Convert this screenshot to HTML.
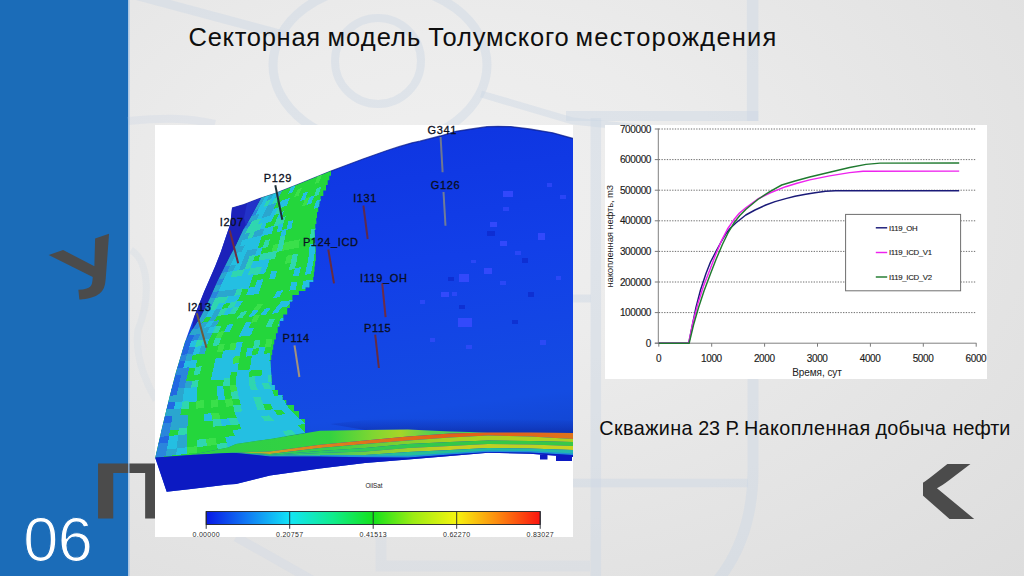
<!DOCTYPE html>
<html lang="ru">
<head>
<meta charset="utf-8">
<title>Секторная модель Толумского месторождения</title>
<style>
html,body{margin:0;padding:0;}
body{width:1024px;height:576px;overflow:hidden;position:relative;
 font-family:"Liberation Sans",sans-serif;
 background:#e9e9e9;}
#bg{position:absolute;left:0;top:0;width:1024px;height:576px;
 background:radial-gradient(ellipse farthest-corner at 44% 34%,#f0f0f0 0%,#ececec 30%,#e5e5e5 62%,#dddddd 100%);}
#side{position:absolute;left:0;top:0;width:128px;height:576px;background:#1b6cb8;}
#art{position:absolute;left:0;top:0;width:1024px;height:576px;}
.title,.caption{position:absolute;left:0;width:1024px;color:#0e0e0e;white-space:nowrap;}
.title{font-size:25.5px;line-height:34px;height:34px;}
.caption{font-size:19.8px;line-height:26px;height:26px;}
.title span,.caption span{position:absolute;top:0;white-space:nowrap;}
.num{position:absolute;left:23.2px;top:503.5px;font-size:63px;line-height:70px;color:#fff;white-space:nowrap;letter-spacing:-0.6px;-webkit-text-stroke:1.1px #1b6cb8;}
.deco{position:absolute;color:#4b4b4b;font-weight:bold;white-space:nowrap;line-height:1;}
svg text{font-family:"Liberation Sans",sans-serif;}
</style>
</head>
<body>
<div id="bg"></div>
<div id="side"></div>
<div class="deco" id="dU" style="left:52px;top:228.6px;width:80px;height:78px;font-size:78px;text-align:center;transform:rotate(-19.5deg) skewX(10.5deg) scaleX(1.3);transform-origin:50% 50%;">У</div>
<div class="deco" id="dP" style="left:90.5px;top:451px;width:80px;height:79.4px;font-size:79.4px;"><span style="display:inline-block;transform:scaleX(1.33);transform-origin:0 50%;">П</span></div>
<div class="deco" id="dK" style="left:922.5px;top:452.4px;width:60px;height:78px;overflow:hidden;font-size:79px;"><span style="display:inline-block;margin-left:-44.5px;transform:scaleX(1.99);transform-origin:0 50%;">К</span></div>
<svg id="art" width="1024" height="576" viewBox="0 0 1024 576">
<g fill="none" stroke="#cdd6e4" stroke-opacity="0.45">
<ellipse cx="380" cy="65" rx="107" ry="80" stroke-width="9"/>
<circle cx="378" cy="61" r="43" stroke-width="8"/>
<path d="M138,-4 L280,34" stroke-width="9"/>
<path d="M128,121 C160,118 185,117 215,124" stroke-width="8" stroke-opacity="0.35"/>
<path d="M481,94 L573,121 L640,128" stroke-width="7"/>
<path d="M752.6,-2 V121" stroke-width="11.5"/>
<path d="M566,116 H758.3" stroke-width="10"/>
<path d="M595.8,118 V580" stroke-width="10.5"/>
<path d="M573,298.5 H591" stroke-width="8"/>
<path d="M573,483 H748" stroke-width="8.5"/>
<path d="M753,379 V470 C753,520 738,555 718,580" stroke-width="11"/>
<path d="M236,537 L312,580" stroke-width="9" stroke-opacity="0.35"/>
<path d="M381,537 V566 H590" stroke-width="11" stroke-opacity="0.3"/>
<path d="M131,250 C150,262 150,300 138,330 C134,360 150,390 156,400" stroke-width="7" stroke-opacity="0.25"/>
</g>
<rect x="128" y="0" width="1.6" height="576" fill="#9dbfe3" opacity="0.8"/>
<rect x="155" y="125" width="418" height="412" fill="#fff"/>
<defs>
<linearGradient id="gsurf" x1="0" y1="0" x2="0.15" y2="1">
 <stop offset="0" stop-color="#0c30d2"/><stop offset="0.12" stop-color="#0f36e2"/><stop offset="0.45" stop-color="#123fe8"/>
 <stop offset="0.85" stop-color="#144ce2"/><stop offset="1" stop-color="#1244cc"/>
</linearGradient>
<linearGradient id="gbar" x1="0" y1="0" x2="1" y2="0">
 <stop offset="0" stop-color="#0818e6"/><stop offset="0.12" stop-color="#1078f4"/>
 <stop offset="0.25" stop-color="#12e4f6"/><stop offset="0.38" stop-color="#10ec8c"/>
 <stop offset="0.5" stop-color="#14e21c"/><stop offset="0.62" stop-color="#9cec14"/>
 <stop offset="0.75" stop-color="#f6f410"/><stop offset="0.87" stop-color="#fc8c10"/>
 <stop offset="1" stop-color="#fc1410"/>
</linearGradient>
<clipPath id="cimg"><rect x="155" y="125" width="418" height="412"/></clipPath>
</defs>
<g clip-path="url(#cimg)">
<polygon points="232.0,208.0 244.0,204.5 261.0,198.0 275.0,193.5 299.0,184.0 331.0,171.0 363.0,159.0 387.0,150.5 399.0,146.7 412.0,142.8 420.0,141.2 440.3,136.0 456.0,131.3 471.6,129.0 487.0,126.7 498.0,126.3 510.6,126.6 529.4,129.0 552.8,132.8 573.0,138.5 573.0,457.0 530.0,453.8 488.0,452.8 450.0,456.0 408.0,459.5 365.0,463.0 320.0,468.5 270.0,475.5 236.0,484.0 228.0,484.5 191.0,489.0 166.7,491.7 155.3,458.0 155.3,457.5 162.0,428.0 170.0,395.0 176.0,372.0 185.0,342.0 194.0,317.0 204.0,292.0 211.4,275.0 215.3,266.0 220.8,252.0 226.0,236.6 230.3,224.0" fill="url(#gsurf)"/>
<polyline points="232.0,208.0 244.0,204.5 261.0,198.0 275.0,193.5 299.0,184.0 331.0,171.0 363.0,159.0 387.0,150.5 399.0,146.7 412.0,142.8 420.0,141.2 440.3,136.0 456.0,131.3 471.6,129.0 487.0,126.7 498.0,126.3 510.6,126.6 529.4,129.0 552.8,132.8 573.0,138.5" fill="none" stroke="#0a1c8c" stroke-width="1.3" stroke-opacity="0.75"/>
<clipPath id="creg"><polygon points="261.0,198.0 275.0,193.5 299.0,184.0 331.0,171.0 331.0,175.7 329.3,175.7 329.3,180.3 327.7,180.3 327.7,185.0 326.0,185.0 326.0,190.5 323.3,190.5 323.3,196.0 320.6,196.0 320.6,201.3 319.4,201.3 319.4,206.7 318.2,206.7 318.2,212.0 317.0,212.0 317.0,218.0 316.2,218.0 316.2,224.0 315.3,224.0 315.3,230.0 314.5,230.0 315.8,256.0 315.8,261.2 315.1,261.2 315.1,266.5 314.5,266.5 314.5,271.8 313.9,271.8 313.9,277.0 313.2,277.0 313.2,282.1 309.3,282.1 309.3,287.3 305.4,287.3 305.4,291.1 298.9,291.1 298.9,295.0 292.4,295.0 292.4,301.5 289.8,301.5 289.8,308.0 287.2,308.0 287.2,314.5 283.3,314.5 283.3,321.0 279.4,321.0 279.4,327.1 277.7,327.1 277.7,333.3 275.9,333.3 275.9,339.4 274.2,339.4 274.2,344.5 273.2,344.5 273.2,349.7 272.2,349.7 272.2,354.9 271.3,354.9 271.3,360.0 270.3,360.0 271.6,380.0 271.6,385.0 274.8,385.0 274.8,390.0 278.0,390.0 278.0,395.0 282.6,395.0 282.6,400.0 286.3,400.0 286.3,405.0 290.0,405.0 294.0,405.0 294.0,411.0 299.0,411.0 299.0,419.0 305.0,419.0 305.0,432.8 270.0,438.9 236.0,444.0 228.0,447.5 191.0,455.0 166.7,456.7 155.3,457.5 162.0,428.0 170.0,395.0 176.0,372.0 185.0,342.0 192.0,330.0 200.0,318.0 209.0,300.0 217.0,282.0 230.0,256.0 236.0,245.0 243.0,230.0 249.0,220.0"/></clipPath>
<polygon points="261.0,198.0 275.0,193.5 299.0,184.0 331.0,171.0 331.0,175.7 329.3,175.7 329.3,180.3 327.7,180.3 327.7,185.0 326.0,185.0 326.0,190.5 323.3,190.5 323.3,196.0 320.6,196.0 320.6,201.3 319.4,201.3 319.4,206.7 318.2,206.7 318.2,212.0 317.0,212.0 317.0,218.0 316.2,218.0 316.2,224.0 315.3,224.0 315.3,230.0 314.5,230.0 315.8,256.0 315.8,261.2 315.1,261.2 315.1,266.5 314.5,266.5 314.5,271.8 313.9,271.8 313.9,277.0 313.2,277.0 313.2,282.1 309.3,282.1 309.3,287.3 305.4,287.3 305.4,291.1 298.9,291.1 298.9,295.0 292.4,295.0 292.4,301.5 289.8,301.5 289.8,308.0 287.2,308.0 287.2,314.5 283.3,314.5 283.3,321.0 279.4,321.0 279.4,327.1 277.7,327.1 277.7,333.3 275.9,333.3 275.9,339.4 274.2,339.4 274.2,344.5 273.2,344.5 273.2,349.7 272.2,349.7 272.2,354.9 271.3,354.9 271.3,360.0 270.3,360.0 271.6,380.0 271.6,385.0 274.8,385.0 274.8,390.0 278.0,390.0 278.0,395.0 282.6,395.0 282.6,400.0 286.3,400.0 286.3,405.0 290.0,405.0 294.0,405.0 294.0,411.0 299.0,411.0 299.0,419.0 305.0,419.0 305.0,432.8 270.0,438.9 236.0,444.0 228.0,447.5 191.0,455.0 166.7,456.7 155.3,457.5 162.0,428.0 170.0,395.0 176.0,372.0 185.0,342.0 192.0,330.0 200.0,318.0 209.0,300.0 217.0,282.0 230.0,256.0 236.0,245.0 243.0,230.0 249.0,220.0" fill="#24d63c"/>
<g clip-path="url(#creg)" shape-rendering="crispEdges">
<polygon points="261.0,198.0 265.4,196.3 261.5,203.6 257.1,205.2" fill="#2aa6cf"/>
<polygon points="265.4,196.3 269.7,194.6 265.9,202.0 261.5,203.6" fill="#24bfe2"/>
<polygon points="269.7,194.6 274.1,193.0 270.4,200.3 265.9,202.0" fill="#2aa6cf"/>
<polygon points="274.1,193.0 278.4,191.3 274.8,198.7 270.4,200.3" fill="#24bfe2"/>
<polygon points="278.4,191.3 282.8,189.6 279.2,197.1 274.8,198.7" fill="#2aa6cf"/>
<polygon points="291.5,186.2 295.8,184.6 292.5,192.2 288.1,193.9" fill="#24bfe2"/>
<polygon points="317.6,176.2 322.0,174.5 319.0,182.5 314.6,184.2" fill="#3ae04a"/>
<polygon points="335.0,169.4 339.4,167.8 336.7,176.1 332.3,177.7" fill="#24bfe2"/>
<polygon points="257.6,204.2 262.0,202.6 258.2,209.8 253.7,211.4" fill="#2aa6cf"/>
<polygon points="262.0,202.6 266.5,200.9 262.7,208.3 258.2,209.8" fill="#24bfe2"/>
<polygon points="266.5,200.9 270.9,199.3 267.2,206.7 262.7,208.3" fill="#2fd6b0"/>
<polygon points="270.9,199.3 275.3,197.7 271.6,205.1 267.2,206.7" fill="#24bfe2"/>
<polygon points="275.3,197.7 279.7,196.1 276.1,203.6 271.6,205.1" fill="#2fd6b0"/>
<polygon points="297.4,189.6 301.8,187.9 298.6,195.7 294.1,197.3" fill="#3ae04a"/>
<polygon points="254.2,210.4 258.7,208.8 254.9,216.1 250.3,217.6" fill="#2a86dc"/>
<polygon points="258.7,208.8 267.7,205.7 264.0,213.0 254.9,216.1" fill="#24bfe2"/>
<polygon points="267.7,205.7 276.6,202.5 273.1,210.0 264.0,213.0" fill="#2aa6cf"/>
<polygon points="281.1,201.0 290.0,197.8 286.7,205.5 277.6,208.5" fill="#24bfe2"/>
<polygon points="303.5,193.1 308.0,191.5 304.9,199.5 300.3,201.0" fill="#24bfe2"/>
<polygon points="316.9,188.4 321.4,186.8 318.5,194.9 314.0,196.4" fill="#2fd6b0"/>
<polygon points="250.9,216.6 259.9,213.6 256.0,220.8 246.8,223.7" fill="#2aa6cf"/>
<polygon points="259.9,213.6 264.5,212.0 260.6,219.3 256.0,220.8" fill="#24bfe2"/>
<polygon points="264.5,212.0 273.5,209.0 269.9,216.4 260.6,219.3" fill="#2aa6cf"/>
<polygon points="273.5,209.0 278.1,207.5 274.5,215.0 269.9,216.4" fill="#24bfe2"/>
<polygon points="278.1,207.5 282.6,206.0 279.1,213.5 274.5,215.0" fill="#2fd6b0"/>
<polygon points="305.3,198.4 309.8,196.8 306.8,204.8 302.2,206.3" fill="#3ae04a"/>
<polygon points="309.8,196.8 314.4,195.3 311.4,203.4 306.8,204.8" fill="#24bfe2"/>
<polygon points="247.4,222.7 252.0,221.3 247.8,228.4 243.2,229.7" fill="#2a86dc"/>
<polygon points="252.0,221.3 261.2,218.3 257.2,225.6 247.8,228.4" fill="#2fd6b0"/>
<polygon points="261.2,218.3 275.0,214.0 271.3,221.4 257.2,225.6" fill="#24bfe2"/>
<polygon points="279.6,212.5 284.2,211.0 280.7,218.6 276.0,220.0" fill="#24bfe2"/>
<polygon points="316.4,200.8 321.0,199.3 318.2,207.5 313.5,208.9" fill="#24bfe2"/>
<polygon points="243.7,228.8 248.4,227.4 244.9,234.8 240.1,236.1" fill="#2aa6cf"/>
<polygon points="248.4,227.4 262.5,223.2 259.2,230.8 244.9,234.8" fill="#2fd6b0"/>
<polygon points="262.5,223.2 267.1,221.8 264.0,229.4 259.2,230.8" fill="#24bfe2"/>
<polygon points="276.5,219.0 285.9,216.2 283.1,224.1 273.6,226.8" fill="#2fd6b0"/>
<polygon points="240.6,235.1 250.1,232.4 247.0,240.0 237.2,242.5" fill="#2aa6cf"/>
<polygon points="250.1,232.4 254.9,231.1 252.0,238.7 247.0,240.0" fill="#2fd6b0"/>
<polygon points="254.9,231.1 264.4,228.4 261.9,236.2 252.0,238.7" fill="#2aa6cf"/>
<polygon points="264.4,228.4 273.9,225.7 271.7,233.6 261.9,236.2" fill="#24bfe2"/>
<polygon points="278.6,224.3 283.4,223.0 281.6,231.1 276.7,232.3" fill="#24bfe2"/>
<polygon points="288.1,221.6 292.9,220.3 291.5,228.5 286.6,229.8" fill="#24bfe2"/>
<polygon points="237.6,241.5 242.5,240.2 239.1,247.6 233.9,248.8" fill="#2aa6cf"/>
<polygon points="242.5,240.2 262.2,235.1 259.5,242.8 239.1,247.6" fill="#24bfe2"/>
<polygon points="281.9,230.0 286.8,228.7 285.1,236.8 280.0,238.0" fill="#24bfe2"/>
<polygon points="316.2,221.0 321.2,219.7 321.0,228.4 315.8,229.6" fill="#3ae04a"/>
<polygon points="321.2,219.7 326.1,218.4 326.1,227.2 321.0,228.4" fill="#2fd6b0"/>
<polygon points="234.5,247.8 244.7,245.4 241.2,252.7 230.6,255.0" fill="#2aa6cf"/>
<polygon points="244.7,245.4 259.9,241.7 257.1,249.4 241.2,252.7" fill="#24bfe2"/>
<polygon points="265.0,240.5 270.1,239.3 267.7,247.2 262.4,248.3" fill="#2fd6b0"/>
<polygon points="280.3,236.9 285.4,235.7 283.6,243.8 278.3,244.9" fill="#2fd6b0"/>
<polygon points="310.8,229.6 315.9,228.4 315.5,237.1 310.2,238.2" fill="#2fd6b0"/>
<polygon points="315.9,228.4 321.0,227.2 320.8,236.0 315.5,237.1" fill="#24bfe2"/>
<polygon points="231.1,254.0 236.4,252.9 232.8,260.2 227.4,261.3" fill="#2aa6cf"/>
<polygon points="236.4,252.9 246.9,250.6 243.8,258.1 232.8,260.2" fill="#24bfe2"/>
<polygon points="246.9,250.6 257.5,248.3 254.8,256.0 243.8,258.1" fill="#2aa6cf"/>
<polygon points="257.5,248.3 262.8,247.2 260.3,255.0 254.8,256.0" fill="#24bfe2"/>
<polygon points="273.3,244.9 278.6,243.8 276.7,251.9 271.2,252.9" fill="#3ae04a"/>
<polygon points="278.6,243.8 283.9,242.7 282.2,250.8 276.7,251.9" fill="#2fd6b0"/>
<polygon points="283.9,242.7 299.7,239.3 298.7,247.7 282.2,250.8" fill="#3ae04a"/>
<polygon points="227.9,260.3 233.3,259.2 229.9,266.6 224.2,267.6" fill="#2aa6cf"/>
<polygon points="233.3,259.2 244.2,257.1 241.2,264.7 229.9,266.6" fill="#24bfe2"/>
<polygon points="244.2,257.1 249.7,256.0 246.8,263.7 241.2,264.7" fill="#2aa6cf"/>
<polygon points="249.7,256.0 255.2,255.0 252.5,262.7 246.8,263.7" fill="#2fd6b0"/>
<polygon points="260.6,253.9 277.0,250.7 275.2,258.8 258.2,261.7" fill="#2fd6b0"/>
<polygon points="309.7,244.4 315.2,243.3 314.8,252.0 309.1,252.9" fill="#24bfe2"/>
<polygon points="315.2,243.3 320.6,242.3 320.4,251.0 314.8,252.0" fill="#3ae04a"/>
<polygon points="224.7,266.6 230.3,265.6 226.9,273.0 221.0,273.9" fill="#2a86dc"/>
<polygon points="230.3,265.6 236.0,264.6 232.7,272.1 226.9,273.0" fill="#2aa6cf"/>
<polygon points="236.0,264.6 241.6,263.6 238.5,271.2 232.7,272.1" fill="#24bfe2"/>
<polygon points="241.6,263.6 247.2,262.6 244.3,270.3 238.5,271.2" fill="#2aa6cf"/>
<polygon points="247.2,262.6 252.9,261.6 250.1,269.4 244.3,270.3" fill="#2fd6b0"/>
<polygon points="252.9,261.6 269.8,258.7 267.5,266.6 250.1,269.4" fill="#24bfe2"/>
<polygon points="286.7,255.7 292.3,254.7 290.7,263.0 284.9,263.9" fill="#3ae04a"/>
<polygon points="292.3,254.7 297.9,253.7 296.5,262.1 290.7,263.0" fill="#2fd6b0"/>
<polygon points="309.2,251.8 314.8,250.8 313.9,259.4 308.1,260.3" fill="#24bfe2"/>
<polygon points="221.6,272.9 227.3,272.0 223.8,279.4 217.9,280.2" fill="#2aa6cf"/>
<polygon points="227.3,272.0 233.1,271.1 229.7,278.5 223.8,279.4" fill="#24bfe2"/>
<polygon points="233.1,271.1 244.7,269.2 241.5,276.8 229.7,278.5" fill="#2fd6b0"/>
<polygon points="244.7,269.2 250.5,268.3 247.4,276.0 241.5,276.8" fill="#24bfe2"/>
<polygon points="250.5,268.3 262.1,266.5 259.2,274.3 247.4,276.0" fill="#2fd6b0"/>
<polygon points="262.1,266.5 267.9,265.5 265.1,273.4 259.2,274.3" fill="#24bfe2"/>
<polygon points="291.0,261.9 296.8,260.9 294.7,269.2 288.8,270.0" fill="#2fd6b0"/>
<polygon points="308.4,259.1 314.1,258.2 312.4,266.7 306.5,267.5" fill="#24bfe2"/>
<polygon points="319.9,257.3 325.7,256.4 324.2,265.0 318.3,265.8" fill="#24bfe2"/>
<polygon points="218.4,279.2 224.3,278.3 220.9,285.8 214.9,286.6" fill="#2a86dc"/>
<polygon points="224.3,278.3 253.7,274.1 250.9,281.9 220.9,285.8" fill="#24bfe2"/>
<polygon points="271.4,271.5 277.3,270.6 274.9,278.7 268.9,279.5" fill="#24bfe2"/>
<polygon points="295.0,268.1 300.9,267.2 298.9,275.5 292.9,276.3" fill="#24bfe2"/>
<polygon points="306.7,266.3 312.6,265.5 310.9,274.0 304.9,274.8" fill="#24bfe2"/>
<polygon points="215.4,285.6 221.4,284.8 218.2,292.3 212.1,293.1" fill="#2aa6cf"/>
<polygon points="221.4,284.8 251.3,280.8 248.6,288.6 218.2,292.3" fill="#24bfe2"/>
<polygon points="257.3,280.0 263.3,279.2 260.7,287.2 254.6,287.9" fill="#24bfe2"/>
<polygon points="212.5,292.0 218.6,291.3 215.4,298.8 209.2,299.5" fill="#2a86dc"/>
<polygon points="218.6,291.3 236.8,289.1 233.9,296.8 215.4,298.8" fill="#2aa6cf"/>
<polygon points="236.8,289.1 242.9,288.3 240.0,296.1 233.9,296.8" fill="#2fd6b0"/>
<polygon points="248.9,287.6 261.1,286.1 258.5,294.0 246.2,295.4" fill="#24bfe2"/>
<polygon points="291.4,282.3 297.5,281.6 295.5,289.9 289.4,290.6" fill="#24bfe2"/>
<polygon points="303.5,280.8 315.7,279.4 314.0,287.9 301.7,289.3" fill="#24bfe2"/>
<polygon points="209.7,298.5 215.8,297.8 212.2,305.1 206.1,305.8" fill="#2aa6cf"/>
<polygon points="215.8,297.8 228.1,296.4 224.4,303.7 212.2,305.1" fill="#2fd6b0"/>
<polygon points="228.1,296.4 240.4,295.0 236.5,302.3 224.4,303.7" fill="#24bfe2"/>
<polygon points="277.3,290.9 283.5,290.2 279.2,297.3 273.1,298.0" fill="#24bfe2"/>
<polygon points="308.1,287.4 314.3,286.7 309.7,293.8 303.6,294.5" fill="#24bfe2"/>
<polygon points="314.3,286.7 320.4,286.0 315.8,293.1 309.7,293.8" fill="#2fd6b0"/>
<polygon points="206.6,304.8 212.7,304.1 208.9,311.4 202.9,312.2" fill="#2a86dc"/>
<polygon points="212.7,304.1 218.8,303.4 214.9,310.6 208.9,311.4" fill="#2fd6b0"/>
<polygon points="218.8,303.4 224.9,302.7 220.9,309.9 214.9,310.6" fill="#24bfe2"/>
<polygon points="231.0,302.0 237.1,301.3 232.8,308.4 226.8,309.1" fill="#2fd6b0"/>
<polygon points="237.1,301.3 243.3,300.6 238.8,307.6 232.8,308.4" fill="#24bfe2"/>
<polygon points="203.4,311.2 209.4,310.4 205.6,317.6 199.7,318.4" fill="#2aa6cf"/>
<polygon points="209.4,310.4 215.4,309.6 211.4,316.8 205.6,317.6" fill="#24bfe2"/>
<polygon points="215.4,309.6 221.4,308.9 217.3,316.0 211.4,316.8" fill="#2aa6cf"/>
<polygon points="221.4,308.9 227.4,308.1 223.2,315.2 217.3,316.0" fill="#2fd6b0"/>
<polygon points="227.4,308.1 233.4,307.4 229.1,314.4 223.2,315.2" fill="#24bfe2"/>
<polygon points="233.4,307.4 239.4,306.6 234.9,313.6 229.1,314.4" fill="#2fd6b0"/>
<polygon points="257.4,304.4 263.4,303.6 258.4,310.4 252.5,311.2" fill="#3ae04a"/>
<polygon points="281.4,301.4 293.4,299.9 287.7,306.4 276.0,308.0" fill="#24bfe2"/>
<polygon points="305.4,298.4 311.4,297.6 305.4,304.0 299.5,304.8" fill="#24bfe2"/>
<polygon points="200.3,317.5 206.2,316.7 201.6,323.5 195.8,324.3" fill="#2aa6cf"/>
<polygon points="212.0,315.9 217.9,315.1 213.3,321.9 207.4,322.7" fill="#2aa6cf"/>
<polygon points="241.5,311.9 247.3,311.1 242.4,317.9 236.6,318.7" fill="#2fd6b0"/>
<polygon points="253.2,310.3 259.1,309.5 254.1,316.2 248.3,317.0" fill="#24bfe2"/>
<polygon points="265.0,308.7 270.9,307.9 265.7,314.6 259.9,315.4" fill="#24bfe2"/>
<polygon points="276.8,307.1 282.6,306.3 277.4,313.0 271.6,313.8" fill="#24bfe2"/>
<polygon points="300.3,303.9 306.2,303.1 300.7,309.8 294.9,310.6" fill="#24bfe2"/>
<polygon points="196.4,323.4 202.2,322.6 197.8,329.4 191.9,330.2" fill="#2a86dc"/>
<polygon points="202.2,322.6 208.1,321.7 203.7,328.7 197.8,329.4" fill="#2aa6cf"/>
<polygon points="208.1,321.7 213.9,320.9 209.6,328.0 203.7,328.7" fill="#24bfe2"/>
<polygon points="213.9,320.9 219.7,320.1 215.5,327.2 209.6,328.0" fill="#2aa6cf"/>
<polygon points="254.6,315.2 260.4,314.4 256.8,322.0 250.9,322.8" fill="#3ae04a"/>
<polygon points="192.5,329.2 210.2,327.0 206.2,334.2 188.3,336.3" fill="#2aa6cf"/>
<polygon points="210.2,327.0 216.1,326.2 212.1,333.5 206.2,334.2" fill="#24bfe2"/>
<polygon points="216.1,326.2 221.9,325.5 218.1,332.8 212.1,333.5" fill="#2fd6b0"/>
<polygon points="227.8,324.7 233.7,324.0 230.0,331.5 224.0,332.1" fill="#24bfe2"/>
<polygon points="245.5,322.5 251.4,321.7 247.8,329.4 241.9,330.1" fill="#24bfe2"/>
<polygon points="269.1,319.5 274.9,318.7 271.6,326.6 265.7,327.3" fill="#2fd6b0"/>
<polygon points="280.8,318.0 286.7,317.2 283.5,325.2 277.6,325.9" fill="#24bfe2"/>
<polygon points="286.7,317.2 292.6,316.5 289.4,324.5 283.5,325.2" fill="#3ae04a"/>
<polygon points="188.9,335.3 194.8,334.6 190.9,341.8 184.9,342.4" fill="#2268e2"/>
<polygon points="194.8,334.6 200.8,333.9 196.9,341.1 190.9,341.8" fill="#2a86dc"/>
<polygon points="200.8,333.9 212.7,332.5 208.8,339.9 196.9,341.1" fill="#2aa6cf"/>
<polygon points="218.6,331.8 224.5,331.1 220.8,338.6 214.8,339.2" fill="#3ae04a"/>
<polygon points="242.4,329.0 254.2,327.6 250.8,335.4 238.8,336.7" fill="#24bfe2"/>
<polygon points="185.3,341.4 191.3,340.8 188.8,348.6 182.8,349.2" fill="#2268e2"/>
<polygon points="191.3,340.8 197.3,340.1 194.7,347.9 188.8,348.6" fill="#24bfe2"/>
<polygon points="197.3,340.1 203.3,339.5 200.7,347.3 194.7,347.9" fill="#2fd6b0"/>
<polygon points="203.3,339.5 209.3,338.8 206.6,346.7 200.7,347.3" fill="#24bfe2"/>
<polygon points="215.3,338.2 221.3,337.5 218.5,345.4 212.6,346.0" fill="#2fd6b0"/>
<polygon points="183.2,348.1 189.1,347.5 186.8,355.4 180.8,355.9" fill="#2268e2"/>
<polygon points="189.1,347.5 195.1,346.8 192.8,354.8 186.8,355.4" fill="#2a86dc"/>
<polygon points="195.1,346.8 201.0,346.2 198.8,354.2 192.8,354.8" fill="#24bfe2"/>
<polygon points="201.0,346.2 207.0,345.6 204.8,353.6 198.8,354.2" fill="#2aa6cf"/>
<polygon points="218.9,344.3 224.8,343.7 222.9,351.8 216.9,352.4" fill="#3ae04a"/>
<polygon points="230.8,343.0 236.7,342.4 234.9,350.6 228.9,351.2" fill="#3ae04a"/>
<polygon points="236.7,342.4 242.7,341.8 240.9,350.0 234.9,350.6" fill="#24bfe2"/>
<polygon points="254.6,340.5 260.5,339.9 258.9,348.2 252.9,348.8" fill="#2fd6b0"/>
<polygon points="266.5,339.2 272.4,338.6 270.9,347.0 264.9,347.6" fill="#3ae04a"/>
<polygon points="284.4,337.3 290.3,336.7 288.9,345.3 282.9,345.8" fill="#24bfe2"/>
<polygon points="181.1,354.9 187.1,354.3 184.9,362.2 178.8,362.7" fill="#2a86dc"/>
<polygon points="187.1,354.3 193.1,353.7 191.0,361.6 184.9,362.2" fill="#2aa6cf"/>
<polygon points="223.1,350.7 241.1,348.9 239.7,357.2 221.4,358.8" fill="#24bfe2"/>
<polygon points="247.1,348.3 253.1,347.7 251.8,356.1 245.7,356.6" fill="#24bfe2"/>
<polygon points="259.1,347.1 265.1,346.5 264.0,355.0 257.9,355.5" fill="#24bfe2"/>
<polygon points="179.1,361.6 185.2,361.1 182.9,369.0 176.8,369.5" fill="#2268e2"/>
<polygon points="185.2,361.1 197.3,359.9 195.3,367.9 182.9,369.0" fill="#24bfe2"/>
<polygon points="215.6,358.3 233.8,356.6 232.3,364.9 213.8,366.4" fill="#24bfe2"/>
<polygon points="233.8,356.6 239.9,356.0 238.4,364.4 232.3,364.9" fill="#3ae04a"/>
<polygon points="252.0,354.9 270.2,353.2 269.3,361.8 250.8,363.3" fill="#24bfe2"/>
<polygon points="177.1,368.4 189.4,367.3 187.4,375.3 174.9,376.3" fill="#2a86dc"/>
<polygon points="195.5,366.8 201.7,366.3 199.8,374.4 193.6,374.9" fill="#2fd6b0"/>
<polygon points="214.0,365.3 238.6,363.2 237.3,371.5 212.3,373.4" fill="#24bfe2"/>
<polygon points="250.9,362.2 275.6,360.1 274.7,368.7 249.7,370.6" fill="#24bfe2"/>
<polygon points="175.2,375.2 181.4,374.7 179.4,382.7 173.1,383.1" fill="#2268e2"/>
<polygon points="181.4,374.7 187.6,374.2 185.7,382.2 179.4,382.7" fill="#2a86dc"/>
<polygon points="212.5,372.3 231.2,370.9 229.8,379.2 210.9,380.5" fill="#24bfe2"/>
<polygon points="237.4,370.4 249.9,369.4 248.7,377.9 236.1,378.7" fill="#24bfe2"/>
<polygon points="262.4,368.5 281.0,367.0 280.2,375.7 261.3,377.0" fill="#24bfe2"/>
<polygon points="281.0,367.0 287.3,366.6 286.5,375.3 280.2,375.7" fill="#2fd6b0"/>
<polygon points="173.4,382.0 179.7,381.6 177.8,389.5 171.3,389.9" fill="#2268e2"/>
<polygon points="179.7,381.6 186.0,381.1 184.3,389.1 177.8,389.5" fill="#2a86dc"/>
<polygon points="186.0,381.1 192.3,380.7 190.8,388.7 184.3,389.1" fill="#2aa6cf"/>
<polygon points="192.3,380.7 198.6,380.2 197.3,388.2 190.8,388.7" fill="#2fd6b0"/>
<polygon points="223.7,378.5 230.0,378.0 229.8,386.1 223.3,386.5" fill="#2fd6b0"/>
<polygon points="236.3,377.6 248.9,376.7 249.2,384.8 236.2,385.7" fill="#24bfe2"/>
<polygon points="248.9,376.7 255.2,376.3 255.7,384.4 249.2,384.8" fill="#2fd6b0"/>
<polygon points="255.2,376.3 267.8,375.4 268.7,383.6 255.7,384.4" fill="#24bfe2"/>
<polygon points="267.8,375.4 274.1,374.9 275.2,383.2 268.7,383.6" fill="#2fd6b0"/>
<polygon points="274.1,374.9 280.4,374.5 281.7,382.7 275.2,383.2" fill="#24bfe2"/>
<polygon points="171.6,388.8 178.0,388.4 176.4,396.3 169.6,396.8" fill="#2268e2"/>
<polygon points="178.0,388.4 184.5,388.0 183.2,395.9 176.4,396.3" fill="#2aa6cf"/>
<polygon points="184.5,388.0 197.4,387.2 196.9,395.0 183.2,395.9" fill="#24bfe2"/>
<polygon points="216.7,385.9 223.1,385.5 224.1,393.3 217.3,393.7" fill="#24bfe2"/>
<polygon points="229.6,385.0 236.0,384.6 237.8,392.4 230.9,392.8" fill="#3ae04a"/>
<polygon points="236.0,384.6 248.9,383.8 251.4,391.5 237.8,392.4" fill="#24bfe2"/>
<polygon points="248.9,383.8 255.3,383.4 258.2,391.1 251.4,391.5" fill="#2fd6b0"/>
<polygon points="255.3,383.4 261.8,382.9 265.0,390.6 258.2,391.1" fill="#24bfe2"/>
<polygon points="261.8,382.9 268.2,382.5 271.9,390.2 265.0,390.6" fill="#2fd6b0"/>
<polygon points="268.2,382.5 281.1,381.7 285.5,389.3 271.9,390.2" fill="#24bfe2"/>
<polygon points="169.8,395.7 183.4,394.8 182.2,402.7 167.9,403.6" fill="#2aa6cf"/>
<polygon points="183.4,394.8 196.9,393.9 196.5,401.8 182.2,402.7" fill="#24bfe2"/>
<polygon points="217.2,392.6 224.0,392.2 225.0,400.0 217.9,400.4" fill="#24bfe2"/>
<polygon points="230.8,391.7 237.5,391.3 239.3,399.1 232.2,399.5" fill="#2fd6b0"/>
<polygon points="237.5,391.3 271.4,389.1 275.0,396.8 239.3,399.1" fill="#24bfe2"/>
<polygon points="278.1,388.7 291.7,387.8 296.5,395.4 282.2,396.3" fill="#24bfe2"/>
<polygon points="168.2,402.5 175.3,402.1 173.7,410.0 166.2,410.5" fill="#2268e2"/>
<polygon points="175.3,402.1 182.4,401.6 181.2,409.5 173.7,410.0" fill="#24bfe2"/>
<polygon points="182.4,401.6 189.4,401.2 188.6,409.1 181.2,409.5" fill="#2fd6b0"/>
<polygon points="196.5,400.7 203.6,400.3 203.6,408.1 196.1,408.6" fill="#3ae04a"/>
<polygon points="210.7,399.8 217.8,399.4 218.5,407.2 211.0,407.6" fill="#3ae04a"/>
<polygon points="224.9,398.9 232.0,398.4 233.4,406.2 226.0,406.7" fill="#3ae04a"/>
<polygon points="239.1,398.0 253.3,397.1 255.8,404.8 240.9,405.7" fill="#24bfe2"/>
<polygon points="253.3,397.1 260.3,396.6 263.3,404.3 255.8,404.8" fill="#2fd6b0"/>
<polygon points="260.3,396.6 281.6,395.3 285.7,402.9 263.3,404.3" fill="#24bfe2"/>
<polygon points="288.7,394.8 295.8,394.4 300.6,402.0 293.1,402.4" fill="#3ae04a"/>
<polygon points="166.5,409.4 181.3,408.4 180.2,416.4 164.6,417.3" fill="#2aa6cf"/>
<polygon points="233.2,405.1 240.6,404.7 242.4,412.4 234.7,412.9" fill="#2fd6b0"/>
<polygon points="240.6,404.7 255.5,403.7 258.0,411.5 242.4,412.4" fill="#24bfe2"/>
<polygon points="255.5,403.7 262.9,403.3 265.8,411.0 258.0,411.5" fill="#2fd6b0"/>
<polygon points="270.3,402.8 285.1,401.9 289.2,409.5 273.6,410.5" fill="#24bfe2"/>
<polygon points="164.8,416.2 172.6,415.8 171.2,423.6 162.9,424.2" fill="#2268e2"/>
<polygon points="172.6,415.8 188.1,414.8 187.6,422.4 171.2,423.6" fill="#2aa6cf"/>
<polygon points="203.5,413.8 211.3,413.3 212.3,420.5 204.1,421.1" fill="#24bfe2"/>
<polygon points="211.3,413.3 219.0,412.8 220.6,419.9 212.3,420.5" fill="#3ae04a"/>
<polygon points="234.5,411.9 273.1,409.4 278.2,415.6 237.0,418.7" fill="#24bfe2"/>
<polygon points="280.9,408.9 288.6,408.4 294.7,414.4 286.4,415.0" fill="#24bfe2"/>
<polygon points="163.2,423.1 171.3,422.5 170.0,430.3 161.3,431.1" fill="#2a86dc"/>
<polygon points="171.3,422.5 187.7,421.3 187.4,428.8 170.0,430.3" fill="#2aa6cf"/>
<polygon points="212.2,419.6 220.3,419.0 222.1,425.9 213.5,426.6" fill="#2fd6b0"/>
<polygon points="220.3,419.0 228.5,418.4 230.8,425.1 222.1,425.9" fill="#24bfe2"/>
<polygon points="228.5,418.4 236.6,417.8 239.5,424.4 230.8,425.1" fill="#2fd6b0"/>
<polygon points="236.6,417.8 261.1,416.0 265.6,422.2 239.5,424.4" fill="#24bfe2"/>
<polygon points="261.1,416.0 269.3,415.4 274.3,421.4 265.6,422.2" fill="#2fd6b0"/>
<polygon points="269.3,415.4 293.8,413.7 300.4,419.2 274.3,421.4" fill="#24bfe2"/>
<polygon points="301.9,413.1 310.1,412.5 317.8,417.7 309.1,418.5" fill="#24bfe2"/>
<polygon points="161.6,430.0 170.2,429.2 168.9,437.1 159.7,438.0" fill="#2a86dc"/>
<polygon points="178.8,428.5 187.4,427.8 187.2,435.3 178.0,436.2" fill="#2fd6b0"/>
<polygon points="239.1,423.5 299.5,418.4 306.1,424.0 242.0,430.1" fill="#24bfe2"/>
<polygon points="308.1,417.7 316.7,417.0 324.4,422.3 315.2,423.1" fill="#24bfe2"/>
<polygon points="160.0,436.9 169.1,436.0 167.8,443.8 158.2,444.8" fill="#2268e2"/>
<polygon points="169.1,436.0 178.1,435.1 177.4,442.8 167.8,443.8" fill="#24bfe2"/>
<polygon points="178.1,435.1 187.2,434.3 187.0,441.8 177.4,442.8" fill="#2aa6cf"/>
<polygon points="232.6,430.0 296.1,424.1 302.2,429.8 235.0,436.8" fill="#24bfe2"/>
<polygon points="305.2,423.2 314.2,422.4 321.4,427.8 311.8,428.8" fill="#2fd6b0"/>
<polygon points="158.4,443.7 168.0,442.8 166.7,450.6 156.6,451.7" fill="#2a86dc"/>
<polygon points="168.0,442.8 177.5,441.8 176.7,449.4 166.7,450.6" fill="#24bfe2"/>
<polygon points="177.5,441.8 187.0,440.8 186.8,448.3 176.7,449.4" fill="#2aa6cf"/>
<polygon points="196.5,439.8 206.1,438.8 206.9,446.0 196.8,447.2" fill="#2fd6b0"/>
<polygon points="206.1,438.8 215.6,437.8 216.9,444.9 206.9,446.0" fill="#3ae04a"/>
<polygon points="225.1,436.9 282.3,431.0 287.3,437.0 227.0,443.8" fill="#24bfe2"/>
<polygon points="282.3,431.0 291.8,430.0 297.4,435.8 287.3,437.0" fill="#2fd6b0"/>
<polygon points="291.8,430.0 301.3,429.0 307.4,434.7 297.4,435.8" fill="#24bfe2"/>
<polygon points="156.9,450.6 166.8,449.5 165.7,456.3 155.3,457.5" fill="#2a86dc"/>
<polygon points="166.8,449.5 176.8,448.4 176.2,455.0 165.7,456.3" fill="#2aa6cf"/>
<polygon points="176.8,448.4 186.8,447.3 186.6,453.8 176.2,455.0" fill="#24bfe2"/>
<polygon points="186.8,447.3 196.8,446.2 197.0,452.5 186.6,453.8" fill="#3ae04a"/>
<polygon points="216.7,443.9 226.7,442.8 228.3,448.8 217.9,450.0" fill="#2fd6b0"/>
<polygon points="226.7,442.8 286.6,436.1 291.0,441.3 228.3,448.8" fill="#24bfe2"/>
<polygon points="296.6,435.0 306.6,433.9 311.8,438.8 301.4,440.1" fill="#24bfe2"/>
</g>
<polygon points="232.0,208.0 244.0,204.5 261.0,198.0 249.0,220.0 243.0,230.0 236.0,245.0 230.0,256.0 217.0,282.0 209.0,300.0 200.0,318.0 192.0,330.0 194.0,317.0 204.0,292.0 211.4,275.0 215.3,266.0 220.8,252.0 226.0,236.6 230.3,224.0" fill="#1c22ba"/>
<polygon points="247.0,203.5 261.0,198.0 254.0,211.0 249.0,220.0 246.0,226.0 244.0,218.0 246.0,208.0" fill="#2232c8"/>
<defs>
<linearGradient id="s0" gradientUnits="userSpaceOnUse" x1="157" y1="0" x2="573" y2="0"><stop offset="0.190" stop-color="#2fd046"/><stop offset="0.416" stop-color="#34d240"/><stop offset="0.517" stop-color="#7ed632"/><stop offset="0.584" stop-color="#a6d628"/><stop offset="0.656" stop-color="#58cf50"/><stop offset="1.000" stop-color="#30c870"/></linearGradient>
<linearGradient id="s1" gradientUnits="userSpaceOnUse" x1="157" y1="0" x2="573" y2="0"><stop offset="0.190" stop-color="#7cc830"/><stop offset="0.267" stop-color="#c8a822"/><stop offset="0.344" stop-color="#dc8a1e"/><stop offset="0.488" stop-color="#e0741c"/><stop offset="0.704" stop-color="#e2601a"/><stop offset="0.873" stop-color="#e0661a"/><stop offset="1.000" stop-color="#de741c"/></linearGradient>
<linearGradient id="s2" gradientUnits="userSpaceOnUse" x1="157" y1="0" x2="573" y2="0"><stop offset="0.190" stop-color="#30cc58"/><stop offset="0.416" stop-color="#38cf4a"/><stop offset="0.584" stop-color="#7ed030"/><stop offset="0.704" stop-color="#a8d022"/><stop offset="1.000" stop-color="#b0d020"/></linearGradient>
<linearGradient id="s3" gradientUnits="userSpaceOnUse" x1="157" y1="0" x2="573" y2="0"><stop offset="0.190" stop-color="#28c878"/><stop offset="0.416" stop-color="#2ccc60"/><stop offset="0.704" stop-color="#34c848"/><stop offset="1.000" stop-color="#38c848"/></linearGradient>
<linearGradient id="s4" gradientUnits="userSpaceOnUse" x1="157" y1="0" x2="573" y2="0"><stop offset="0.190" stop-color="#28c4a0"/><stop offset="0.416" stop-color="#40cc60"/><stop offset="0.584" stop-color="#9ad02a"/><stop offset="0.704" stop-color="#c4d022"/><stop offset="0.873" stop-color="#bcd024"/><stop offset="1.000" stop-color="#c8d420"/></linearGradient>
<linearGradient id="s5" gradientUnits="userSpaceOnUse" x1="157" y1="0" x2="573" y2="0"><stop offset="0.190" stop-color="#24b4c8"/><stop offset="0.416" stop-color="#26bca8"/><stop offset="0.704" stop-color="#24c094"/><stop offset="1.000" stop-color="#22b8b0"/></linearGradient>
<linearGradient id="shade" x1="0" y1="0" x2="0" y2="1"><stop offset="0" stop-color="#0e2aa4" stop-opacity="0"/><stop offset="0.55" stop-color="#0e2aa4" stop-opacity="0.34"/><stop offset="1" stop-color="#0c2498" stop-opacity="0.6"/></linearGradient>
</defs>
<polygon points="330.0,424.0 365.0,420.0 408.0,418.5 450.0,418.5 488.0,419.0 530.0,419.5 573.0,420.5 573.0,433.0 530.0,432.5 488.0,432.5 450.0,431.5 408.0,429.6 365.0,430.0" fill="url(#shade)"/>
<polygon points="191.0,455.0 228.0,447.5 236.0,444.0 270.0,438.9 320.0,430.8 365.0,430.0 408.0,429.6 450.0,431.5 488.0,432.5 530.0,432.5 573.0,433.0 573.0,433.0 530.0,432.5 488.0,432.5 450.0,433.5 408.0,436.4 365.0,440.5 320.0,444.8 270.0,451.5 236.0,452.3 228.0,453.0 191.0,455.0" fill="url(#s0)"/>
<polygon points="191.0,455.0 228.0,453.0 236.0,452.3 270.0,451.5 320.0,444.8 365.0,440.5 408.0,436.4 450.0,433.5 488.0,432.5 530.0,432.5 573.0,433.0 573.0,438.9 530.0,436.5 488.0,435.5 450.0,437.5 408.0,440.6 365.0,444.0 320.0,448.0 270.0,454.0 236.0,452.3 228.0,453.0 191.0,455.0" fill="url(#s1)"/>
<polygon points="191.0,455.0 228.0,453.0 236.0,452.3 270.0,454.0 320.0,448.0 365.0,444.0 408.0,440.6 450.0,437.5 488.0,435.5 530.0,436.5 573.0,438.9 573.0,442.0 530.0,441.0 488.0,440.6 450.0,442.0 408.0,444.0 365.0,448.0 320.0,451.0 270.0,455.0 236.0,453.0 228.0,453.0 191.0,455.0" fill="url(#s2)"/>
<polygon points="191.0,455.0 228.0,453.0 236.0,453.0 270.0,455.0 320.0,451.0 365.0,448.0 408.0,444.0 450.0,442.0 488.0,440.6 530.0,441.0 573.0,442.0 573.0,446.0 530.0,444.5 488.0,444.0 450.0,446.0 408.0,448.0 365.0,451.5 320.0,453.0 270.0,455.5 236.0,453.0 228.0,453.0 191.0,455.0" fill="url(#s3)"/>
<polygon points="191.0,455.0 228.0,453.0 236.0,453.0 270.0,455.5 320.0,453.0 365.0,451.5 408.0,448.0 450.0,446.0 488.0,444.0 530.0,444.5 573.0,446.0 573.0,450.0 530.0,448.5 488.0,448.0 450.0,450.0 408.0,452.0 365.0,455.0 320.0,455.0 270.0,456.0 236.0,453.0 228.0,453.0 191.0,455.0" fill="url(#s4)"/>
<polygon points="191.0,455.0 228.0,453.0 236.0,453.0 270.0,456.0 320.0,455.0 365.0,455.0 408.0,452.0 450.0,450.0 488.0,448.0 530.0,448.5 573.0,450.0 573.0,455.0 530.0,452.5 488.0,452.0 450.0,454.5 408.0,457.4 365.0,457.2 320.0,456.5 270.0,456.5 236.0,453.0 228.0,453.0 191.0,455.0" fill="url(#s5)"/>
<polyline points="320.0,455.7 365.0,456.4 408.0,456.6 450.0,453.7 488.0,451.2 530.0,451.7 573.0,454.2" fill="none" stroke="#1e8edc" stroke-width="1.6"/>
<polygon points="155.3,457.5 166.7,456.7 191.0,455.0 228.0,453.0 236.0,453.0 270.0,456.5 320.0,456.5 365.0,457.2 408.0,457.4 450.0,454.5 488.0,452.0 530.0,452.5 573.0,455.0 573.0,457.0 530.0,453.8 488.0,452.8 450.0,456.0 408.0,459.5 365.0,463.0 320.0,468.5 270.0,475.5 236.0,484.0 228.0,484.5 191.0,489.0 166.7,491.7 155.3,458.0" fill="#0c1ac2"/>
<rect x="540" y="454.5" width="7.5" height="5" fill="#0c1ac2"/><rect x="556" y="455.5" width="16" height="5.5" fill="#0c1ac2"/>
<rect x="503" y="191" width="10" height="6" fill="#3a4cff" opacity="0.82"/>
<rect x="503" y="207" width="6" height="4" fill="#3a4cff" opacity="0.62"/>
<rect x="490" y="222" width="7" height="5" fill="#3a4cff" opacity="0.82"/>
<rect x="487" y="231" width="8" height="5" fill="#0a1ec0" opacity="0.5"/>
<rect x="538" y="233" width="7" height="7" fill="#3a4cff" opacity="0.82"/>
<rect x="500" y="241" width="7" height="5" fill="#3a4cff" opacity="0.82"/>
<rect x="515" y="251" width="6" height="4" fill="#3a4cff" opacity="0.62"/>
<rect x="522" y="258" width="6" height="5" fill="#0a1ec0" opacity="0.5"/>
<rect x="471" y="260" width="5" height="3" fill="#3a4cff" opacity="0.62"/>
<rect x="484" y="268" width="8" height="6" fill="#3a4cff" opacity="0.82"/>
<rect x="459" y="274" width="10" height="8" fill="#3a4cff" opacity="0.82"/>
<rect x="448" y="277" width="6" height="4" fill="#0a1ec0" opacity="0.5"/>
<rect x="500" y="281" width="6" height="4" fill="#3a4cff" opacity="0.62"/>
<rect x="441" y="292" width="8" height="5" fill="#3a4cff" opacity="0.82"/>
<rect x="452" y="292" width="5" height="4" fill="#3a4cff" opacity="0.62"/>
<rect x="459" y="305" width="6" height="4" fill="#0a1ec0" opacity="0.5"/>
<rect x="458" y="318" width="14" height="9" fill="#3a4cff" opacity="0.82"/>
<rect x="560" y="195" width="6" height="4" fill="#3a4cff" opacity="0.62"/>
<rect x="556" y="276" width="5" height="4" fill="#3a4cff" opacity="0.62"/>
<rect x="528" y="292" width="6" height="5" fill="#0a1ec0" opacity="0.5"/>
<rect x="420" y="300" width="5" height="4" fill="#3a4cff" opacity="0.62"/>
<rect x="547" y="183" width="5" height="4" fill="#3a4cff" opacity="0.62"/>
<rect x="466" y="345" width="6" height="4" fill="#3a4cff" opacity="0.62"/>
<rect x="512" y="320" width="6" height="4" fill="#0a1ec0" opacity="0.5"/>
<rect x="540" y="340" width="6" height="5" fill="#3a4cff" opacity="0.62"/>
<rect x="430" y="338" width="5" height="4" fill="#3a4cff" opacity="0.62"/>
<line x1="440.6" y1="137" x2="442.6" y2="172.2" stroke="#6f7890" stroke-width="2"/>
<line x1="443.5" y1="192" x2="445.5" y2="225.7" stroke="#707c98" stroke-width="2"/>
<line x1="275.3" y1="185.3" x2="282.3" y2="219.7" stroke="#1f3038" stroke-width="2"/>
<line x1="363.4" y1="205.5" x2="367.7" y2="239" stroke="#5e2a4e" stroke-width="2"/>
<line x1="229.7" y1="230.6" x2="238.2" y2="263.3" stroke="#6e2c40" stroke-width="2"/>
<line x1="328.3" y1="249.5" x2="334" y2="283.4" stroke="#672c40" stroke-width="2"/>
<line x1="382.2" y1="283.4" x2="385.6" y2="317.2" stroke="#6e2c46" stroke-width="2"/>
<line x1="196.8" y1="313.3" x2="206.5" y2="347.7" stroke="#6b5a3c" stroke-width="2"/>
<line x1="375.2" y1="334.7" x2="378.9" y2="368" stroke="#672c40" stroke-width="2"/>
<line x1="294.5" y1="345.4" x2="299.4" y2="377" stroke="#a3927c" stroke-width="2"/>
<text x="427.6" y="133.6" font-size="11" letter-spacing="0.62" fill="#0a0e22" stroke="#0a0e22" stroke-width="0.3">G341</text>
<text x="430.8" y="188.6" font-size="11" letter-spacing="0.62" fill="#0a0e22" stroke="#0a0e22" stroke-width="0.3">G126</text>
<text x="263.8" y="182.3" font-size="11" letter-spacing="0.62" fill="#0a0e22" stroke="#0a0e22" stroke-width="0.3">P129</text>
<text x="353.2" y="202" font-size="11" letter-spacing="0.62" fill="#0a0e22" stroke="#0a0e22" stroke-width="0.3">I131</text>
<text x="219.8" y="226.2" font-size="11" letter-spacing="0.62" fill="#0a0e22" stroke="#0a0e22" stroke-width="0.3">I207</text>
<text x="302.9" y="246.3" font-size="11" letter-spacing="0.62" fill="#0a0e22" stroke="#0a0e22" stroke-width="0.3">P124_ICD</text>
<text x="360" y="281.7" font-size="11" letter-spacing="0.62" fill="#0a0e22" stroke="#0a0e22" stroke-width="0.3">I119_OH</text>
<text x="187.7" y="311.4" font-size="11" letter-spacing="0.62" fill="#0a0e22" stroke="#0a0e22" stroke-width="0.3">I213</text>
<text x="364" y="332.4" font-size="11" letter-spacing="0.62" fill="#0a0e22" stroke="#0a0e22" stroke-width="0.3">P115</text>
<text x="282.5" y="342.1" font-size="11" letter-spacing="0.62" fill="#0a0e22" stroke="#0a0e22" stroke-width="0.3">P114</text>
</g>
<rect x="206.2" y="511.5" width="334" height="13" fill="url(#gbar)" stroke="#20242c" stroke-width="0.9"/>
<line x1="206.2" y1="511.5" x2="206.2" y2="528.8" stroke="#20242c" stroke-width="0.9"/>
<text x="206.2" y="537.3" font-size="7" text-anchor="middle" fill="#2a2a2a" letter-spacing="0.3">0.00000</text>
<line x1="289.7" y1="511.5" x2="289.7" y2="528.8" stroke="#20242c" stroke-width="0.9"/>
<text x="289.7" y="537.3" font-size="7" text-anchor="middle" fill="#2a2a2a" letter-spacing="0.3">0.20757</text>
<line x1="373.2" y1="511.5" x2="373.2" y2="528.8" stroke="#20242c" stroke-width="0.9"/>
<text x="373.2" y="537.3" font-size="7" text-anchor="middle" fill="#2a2a2a" letter-spacing="0.3">0.41513</text>
<line x1="456.7" y1="511.5" x2="456.7" y2="528.8" stroke="#20242c" stroke-width="0.9"/>
<text x="456.7" y="537.3" font-size="7" text-anchor="middle" fill="#2a2a2a" letter-spacing="0.3">0.62270</text>
<line x1="540.2" y1="511.5" x2="540.2" y2="528.8" stroke="#20242c" stroke-width="0.9"/>
<text x="540.2" y="537.3" font-size="7" text-anchor="middle" fill="#2a2a2a" letter-spacing="0.3">0.83027</text>
<text x="374" y="487.6" font-size="6.3" text-anchor="middle" fill="#222">OilSat</text>
<rect x="605" y="125" width="382" height="254" fill="#fff"/>
<line x1="658.8" y1="312.6" x2="976" y2="312.6" stroke="#6e6e6e" stroke-width="1" stroke-dasharray="1.33 1.34"/>
<line x1="658.8" y1="282.0" x2="976" y2="282.0" stroke="#6e6e6e" stroke-width="1" stroke-dasharray="1.33 1.34"/>
<line x1="658.8" y1="251.4" x2="976" y2="251.4" stroke="#6e6e6e" stroke-width="1" stroke-dasharray="1.33 1.34"/>
<line x1="658.8" y1="220.8" x2="976" y2="220.8" stroke="#6e6e6e" stroke-width="1" stroke-dasharray="1.33 1.34"/>
<line x1="658.8" y1="190.2" x2="976" y2="190.2" stroke="#6e6e6e" stroke-width="1" stroke-dasharray="1.33 1.34"/>
<line x1="658.8" y1="159.6" x2="976" y2="159.6" stroke="#6e6e6e" stroke-width="1" stroke-dasharray="1.33 1.34"/>
<line x1="658.8" y1="129.0" x2="976" y2="129.0" stroke="#6e6e6e" stroke-width="1" stroke-dasharray="1.33 1.34"/>
<line x1="658.3" y1="128.5" x2="658.3" y2="343.2" stroke="#808080" stroke-width="1"/>
<line x1="654.8" y1="343.2" x2="976.5" y2="343.2" stroke="#808080" stroke-width="1"/>
<line x1="654.8" y1="343.2" x2="658.8" y2="343.2" stroke="#7a7a7a" stroke-width="1"/>
<text x="651" y="346.8" font-size="10" text-anchor="end" fill="#1c1c1c" letter-spacing="-0.38" stroke="#1c1c1c" stroke-width="0.15">0</text>
<line x1="654.8" y1="312.6" x2="658.8" y2="312.6" stroke="#7a7a7a" stroke-width="1"/>
<text x="651" y="316.2" font-size="10" text-anchor="end" fill="#1c1c1c" letter-spacing="-0.38" stroke="#1c1c1c" stroke-width="0.15">100000</text>
<line x1="654.8" y1="282.0" x2="658.8" y2="282.0" stroke="#7a7a7a" stroke-width="1"/>
<text x="651" y="285.6" font-size="10" text-anchor="end" fill="#1c1c1c" letter-spacing="-0.38" stroke="#1c1c1c" stroke-width="0.15">200000</text>
<line x1="654.8" y1="251.4" x2="658.8" y2="251.4" stroke="#7a7a7a" stroke-width="1"/>
<text x="651" y="255.0" font-size="10" text-anchor="end" fill="#1c1c1c" letter-spacing="-0.38" stroke="#1c1c1c" stroke-width="0.15">300000</text>
<line x1="654.8" y1="220.8" x2="658.8" y2="220.8" stroke="#7a7a7a" stroke-width="1"/>
<text x="651" y="224.4" font-size="10" text-anchor="end" fill="#1c1c1c" letter-spacing="-0.38" stroke="#1c1c1c" stroke-width="0.15">400000</text>
<line x1="654.8" y1="190.2" x2="658.8" y2="190.2" stroke="#7a7a7a" stroke-width="1"/>
<text x="651" y="193.8" font-size="10" text-anchor="end" fill="#1c1c1c" letter-spacing="-0.38" stroke="#1c1c1c" stroke-width="0.15">500000</text>
<line x1="654.8" y1="159.6" x2="658.8" y2="159.6" stroke="#7a7a7a" stroke-width="1"/>
<text x="651" y="163.2" font-size="10" text-anchor="end" fill="#1c1c1c" letter-spacing="-0.38" stroke="#1c1c1c" stroke-width="0.15">600000</text>
<line x1="654.8" y1="129.0" x2="658.8" y2="129.0" stroke="#7a7a7a" stroke-width="1"/>
<text x="651" y="132.6" font-size="10" text-anchor="end" fill="#1c1c1c" letter-spacing="-0.38" stroke="#1c1c1c" stroke-width="0.15">700000</text>
<line x1="658.8" y1="343.2" x2="658.8" y2="346.7" stroke="#7a7a7a" stroke-width="1"/>
<text x="658.5" y="361.6" font-size="10" text-anchor="middle" fill="#1c1c1c" letter-spacing="-0.38" stroke="#1c1c1c" stroke-width="0.15">0</text>
<line x1="711.7" y1="343.2" x2="711.7" y2="346.7" stroke="#7a7a7a" stroke-width="1"/>
<text x="711.4" y="361.6" font-size="10" text-anchor="middle" fill="#1c1c1c" letter-spacing="-0.38" stroke="#1c1c1c" stroke-width="0.15">1000</text>
<line x1="764.6" y1="343.2" x2="764.6" y2="346.7" stroke="#7a7a7a" stroke-width="1"/>
<text x="764.3" y="361.6" font-size="10" text-anchor="middle" fill="#1c1c1c" letter-spacing="-0.38" stroke="#1c1c1c" stroke-width="0.15">2000</text>
<line x1="817.5" y1="343.2" x2="817.5" y2="346.7" stroke="#7a7a7a" stroke-width="1"/>
<text x="817.2" y="361.6" font-size="10" text-anchor="middle" fill="#1c1c1c" letter-spacing="-0.38" stroke="#1c1c1c" stroke-width="0.15">3000</text>
<line x1="870.4" y1="343.2" x2="870.4" y2="346.7" stroke="#7a7a7a" stroke-width="1"/>
<text x="870.1" y="361.6" font-size="10" text-anchor="middle" fill="#1c1c1c" letter-spacing="-0.38" stroke="#1c1c1c" stroke-width="0.15">4000</text>
<line x1="923.3" y1="343.2" x2="923.3" y2="346.7" stroke="#7a7a7a" stroke-width="1"/>
<text x="923.0" y="361.6" font-size="10" text-anchor="middle" fill="#1c1c1c" letter-spacing="-0.38" stroke="#1c1c1c" stroke-width="0.15">5000</text>
<line x1="976.2" y1="343.2" x2="976.2" y2="346.7" stroke="#7a7a7a" stroke-width="1"/>
<text x="975.9" y="361.6" font-size="10" text-anchor="middle" fill="#1c1c1c" letter-spacing="-0.38" stroke="#1c1c1c" stroke-width="0.15">6000</text>
<polyline points="658.8,343.2 688.7,343.2 695.9,307.6 700.5,290.0 705.9,273.7 710.5,262.0 715.9,251.7 720.5,243.0 725.8,233.8 730.5,228.0 735.8,223.0 745.8,215.0 755.0,210.0 765.8,205.0 775.0,201.6 785.7,198.6 795.0,196.3 805.7,194.3 815.0,192.7 825.6,191.3 835.5,190.7 959.2,190.7" fill="none" stroke="#1a1a78" stroke-width="1.45" stroke-linejoin="round"/>
<polyline points="658.8,343.2 688.7,343.2 693.0,322.0 697.9,303.6 703.5,286.0 709.9,269.7 715.5,255.0 721.9,239.8 727.5,229.0 733.8,219.8 739.5,213.0 745.8,207.8 757.8,199.0 769.8,193.0 785.7,186.7 797.0,183.2 809.7,179.9 829.6,175.9 849.6,172.6 863.0,171.2 959.2,171.1" fill="none" stroke="#ee22ee" stroke-width="1.45" stroke-linejoin="round"/>
<polyline points="658.8,343.2 689.2,343.2 693.5,325.0 698.4,308.0 704.0,291.0 710.4,274.0 716.0,259.5 722.4,244.5 728.0,233.0 734.0,222.8 739.8,215.5 746.0,209.2 757.8,199.5 769.8,191.6 781.7,185.0 795.0,181.0 809.7,177.0 829.6,172.3 849.6,167.5 866.0,164.4 880.0,163.1 959.2,163.0" fill="none" stroke="#1f7a2f" stroke-width="1.45" stroke-linejoin="round"/>
<rect x="845.6" y="214.4" width="115" height="76.4" fill="#fff" stroke="#6e6e6e" stroke-width="1"/>
<line x1="875.8" y1="227.8" x2="887.2" y2="227.8" stroke="#1a1a78" stroke-width="1.45"/>
<text x="889" y="230.5" font-size="7.8" fill="#222" letter-spacing="-0.32" stroke="#222" stroke-width="0.12">I119_OH</text>
<line x1="875.8" y1="252.5" x2="887.2" y2="252.5" stroke="#ee22ee" stroke-width="1.45"/>
<text x="889" y="255.2" font-size="7.8" fill="#222" letter-spacing="-0.32" stroke="#222" stroke-width="0.12">I119_ICD_V1</text>
<line x1="875.8" y1="277" x2="887.2" y2="277" stroke="#1f7a2f" stroke-width="1.45"/>
<text x="889" y="279.7" font-size="7.8" fill="#222" letter-spacing="-0.32" stroke="#222" stroke-width="0.12">I119_ICD_V2</text>
<text x="817" y="376" font-size="10" text-anchor="middle" fill="#222" letter-spacing="-0.05">Время, сут</text>
<text transform="translate(613.3,236.3) rotate(-90)" font-size="9.5" text-anchor="middle" fill="#222" letter-spacing="-0.15">накопленная нефть, m3</text>
</svg>
<div class="title" style="top:20px"> <span id="title0" style="left:188.55px;letter-spacing:0.712px">Секторная</span> <span id="title1" style="left:327.52px;letter-spacing:1.046px">модель</span> <span id="title2" style="left:428.20px;letter-spacing:0.797px">Толумского</span> <span id="title3" style="left:575.57px;letter-spacing:1.197px">месторождения</span></div>
<div class="caption" style="top:415.4px"> <span id="caption0" style="left:599.20px;letter-spacing:0.428px">Скважина</span> <span id="caption1" style="left:698.28px;letter-spacing:-0.156px">23</span> <span id="caption2" style="left:725.39px;letter-spacing:-0.660px">Р.</span> <span id="caption3" style="left:743.89px;letter-spacing:0.441px">Накопленная</span> <span id="caption4" style="left:875.43px;letter-spacing:0.254px">добыча</span> <span id="caption5" style="left:952.47px;letter-spacing:0.012px">нефти</span></div>
<div class="num">06</div>
</body>
</html>
